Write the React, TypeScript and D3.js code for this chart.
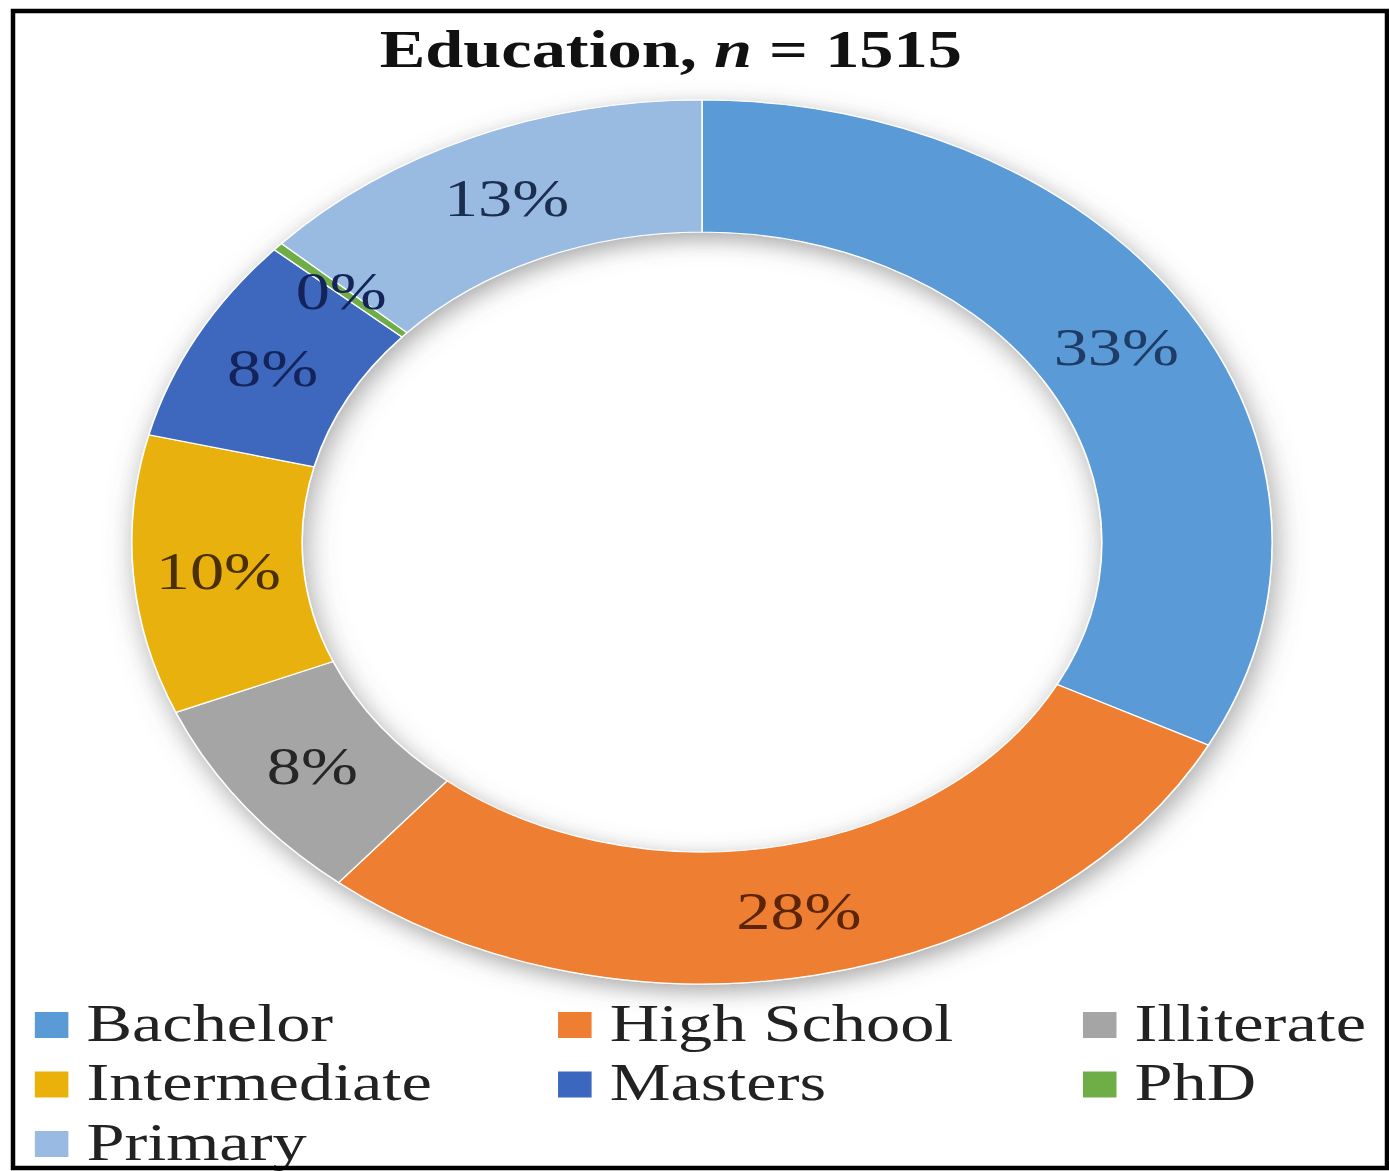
import React from 'react';
import * as d3 from 'd3';

const categories = ['Bachelor', 'High School', 'Illiterate', 'Intermediate', 'Masters', 'PhD', 'Primary'];
const shares = [32.6, 28.4, 7.7, 10.2, 7.6, 0.3, 13.2];
const sliceColors = ['#5A9AD6', '#EE7F32', '#A5A5A5', '#E9B10A', '#3C67BE', '#6FAD47', '#99BAE1'];
const labelColors = ['#1E3C66', '#5C2408', '#262626', '#4A3000', '#14245A', '#14245A', '#1C2E50'];
const titleText = 'Education, ';
const titleN = '1515';

const W = 1389;
const H = 1171;
const SX = 1.29; // horizontal stretch of the picture

export default function App() {
  const cx = 702 / SX;
  const cy = 542;
  const rOuter = 442;
  const rInner = 310;

  const pie = d3.pie<number>().sort(null).value((d) => d);
  const arcs = pie(shares);
  const arc = d3.arc<d3.PieArcDatum<number>>().innerRadius(rInner).outerRadius(rOuter);

  const legendCols = d3.scaleOrdinal<number, number>().domain([0, 1, 2]).range([27, 432.6, 839.5]);
  const legendRows = d3.scaleLinear().domain([0, 2]).range([1041, 1160]);

  return (
    <svg
      width={W}
      height={H}
      style={{ position: 'absolute', left: 0, top: 0, background: '#fff' }}
      fontFamily="'Liberation Serif', 'Times New Roman', serif"
    >
      <defs>
        <filter id="sh" x="-20%" y="-20%" width="140%" height="140%">
          <feDropShadow dx="3" dy="7" stdDeviation="11" floodColor="#5f5f5f" floodOpacity="0.55" />
        </filter>
      </defs>
      <rect x={0} y={0} width={W} height={H} fill="#fff" />
      <g transform={`scale(${SX},1)`}>
        <text x={520} y={67} textAnchor="middle" fontSize={53} fontWeight="bold" fill="#111">
          {titleText}
          <tspan fontStyle="italic">n</tspan>
          {' = ' + titleN}
        </text>
        <g transform={`translate(${cx},${cy})`}>
          <g filter="url(#sh)">
            {arcs.map((a, i) => (
              <path key={i} d={arc(a) || ''} fill={sliceColors[i]} stroke="#fff" strokeWidth={1.2} />
            ))}
          </g>
          {arcs.map((a, i) => {
            const [lx, ly] = arc.centroid(a);
            return (
              <text
                key={'l' + i}
                x={lx}
                y={ly}
                dy="0.35em"
                textAnchor="middle"
                fontSize={53}
                fill={labelColors[i]}
              >
                {Math.round(shares[i]) + '%'}
              </text>
            );
          })}
        </g>
        {categories.map((c, i) => {
          const col = i % 3;
          const row = Math.floor(i / 3);
          const x = legendCols(col);
          const y = legendRows(row);
          return (
            <g key={'g' + i}>
              <rect x={x} y={y - 29} width={26} height={26} fill={sliceColors[i]} />
              <text x={x + 40} y={y} fontSize={53} fill="#222">
                {c}
              </text>
            </g>
          );
        })}
      </g>
      <rect x={13} y={11} width={W - 15} height={H - 14} fill="none" stroke="#000" strokeWidth={4.5} />
    </svg>
  );
}
